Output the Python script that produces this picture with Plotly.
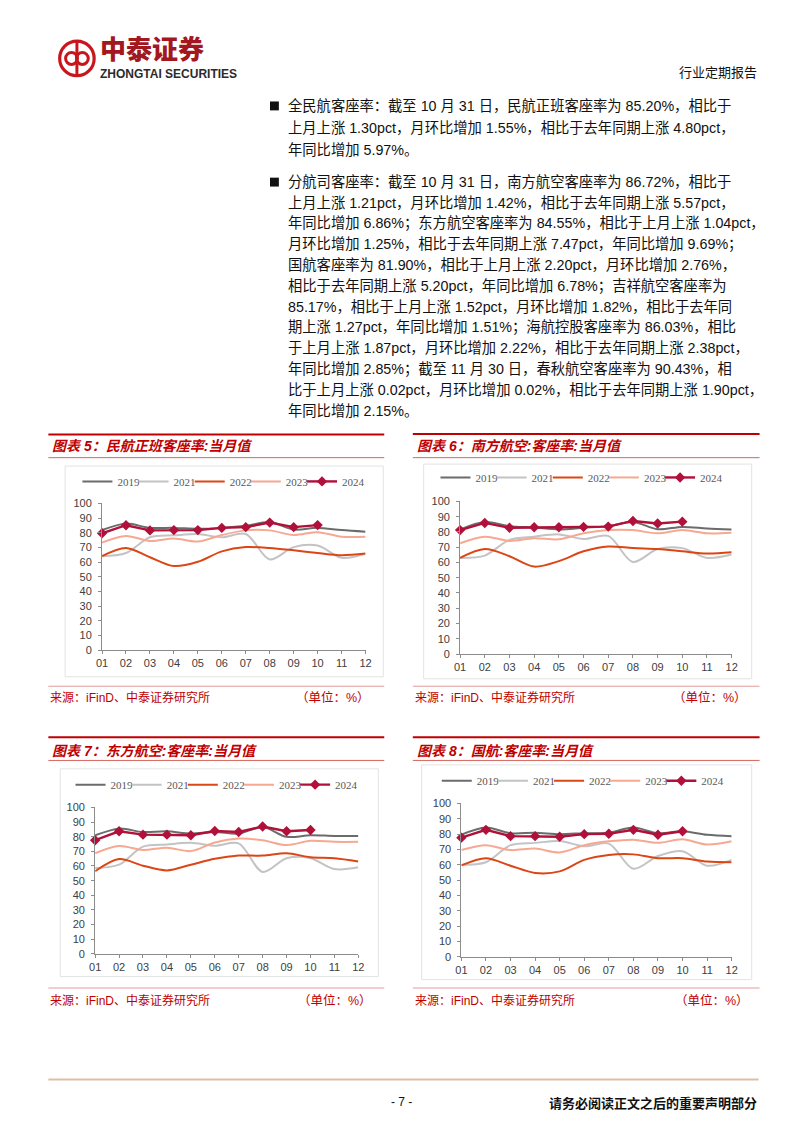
import plotly.graph_objects as go

W, H = 802, 1133


def fx(p):
    return p / W


def fy(p):
    return 1 - p / H


# ---------------- data ----------------
months = [1, 2, 3, 4, 5, 6, 7, 8, 9, 10, 11, 12]
month_labels = ["01", "02", "03", "04", "05", "06", "07", "08", "09", "10", "11", "12"]
years = ["2019", "2021", "2022", "2023", "2024"]
y_ticks = [0, 10, 20, 30, 40, 50, 60, 70, 80, 90, 100]

# 图表5 民航正班客座率
c5_2019 = [81.8, 86.2, 83.3, 83.3, 82.7, 83.3, 84.7, 87.3, 82.2, 83.3, 81.8, 80.7]
c5_2021 = [64.0, 66.2, 76.9, 78.2, 79.1, 76.9, 79.1, 61.8, 70.2, 71.3, 62.9, 65.6]
c5_2022 = [64.0, 69.6, 63.3, 57.3, 60.2, 67.3, 70.2, 69.6, 68.0, 66.2, 64.7, 65.8]
c5_2023 = [73.3, 77.8, 74.4, 76.0, 74.0, 78.4, 81.6, 81.6, 78.4, 80.4, 77.3, 77.3]
c5_2024 = [79.6, 85.1, 81.6, 81.8, 81.8, 83.3, 83.8, 86.9, 83.8, 85.2]

# 图表6 南方航空
c6_2019 = [81.6, 86.5, 83.8, 82.9, 81.6, 82.7, 83.8, 86.5, 81.8, 83.3, 82.3, 81.6]
c6_2021 = [63.0, 64.5, 74.8, 76.9, 78.4, 75.4, 77.4, 60.3, 68.8, 69.4, 63.0, 65.2]
c6_2022 = [63.0, 68.8, 64.1, 57.3, 60.9, 67.3, 70.5, 69.4, 68.8, 67.3, 65.8, 66.7]
c6_2023 = [72.6, 76.9, 74.1, 75.9, 75.2, 79.1, 81.2, 81.2, 79.1, 81.2, 79.1, 79.5]
c6_2024 = [81.2, 85.9, 82.7, 83.1, 83.1, 83.3, 83.5, 87.2, 85.5, 86.72]

# 图表7 东方航空
c7_2019 = [81.0, 85.5, 83.2, 83.7, 82.1, 83.2, 82.1, 86.6, 79.9, 81.0, 80.5, 80.5]
c7_2021 = [58.6, 60.9, 73.2, 74.7, 75.8, 73.8, 75.4, 55.9, 65.3, 65.3, 57.9, 59.1]
c7_2022 = [56.4, 64.7, 60.2, 57.0, 60.9, 64.9, 67.1, 67.1, 68.7, 66.0, 65.3, 63.1]
c7_2023 = [68.7, 73.6, 70.9, 72.5, 70.2, 76.1, 78.7, 77.6, 74.3, 77.2, 76.5, 76.5]
c7_2024 = [77.6, 83.7, 81.4, 81.4, 81.0, 83.9, 83.2, 87.0, 83.7, 84.55]

# 图表8 国航
c8_2019 = [79.6, 84.3, 80.6, 80.9, 80.0, 80.6, 80.9, 84.3, 80.6, 81.9, 79.6, 78.7]
c8_2021 = [60.0, 61.7, 72.8, 74.3, 75.5, 72.1, 73.8, 57.4, 65.7, 68.9, 59.4, 63.2]
c8_2022 = [59.6, 64.3, 59.4, 54.7, 55.7, 63.2, 66.4, 66.8, 64.3, 64.3, 62.1, 61.7]
c8_2023 = [69.6, 72.8, 69.6, 70.6, 68.1, 72.8, 75.3, 76.4, 74.3, 76.6, 73.2, 75.3]
c8_2024 = [77.7, 82.8, 78.7, 78.7, 78.3, 80.0, 80.2, 82.8, 79.6, 81.9]

chart_titles = [
    "图表 5：民航正班客座率:当月值",
    "图表 6：南方航空:客座率:当月值",
    "图表 7：东方航空:客座率:当月值",
    "图表 8：国航:客座率:当月值",
]
source_text = "来源：iFinD、中泰证券研究所"
unit_text = "（单位：%）"

para1 = [
    "全民航客座率：截至 10 月 31 日，民航正班客座率为 85.20%，相比于",
    "上月上涨 1.30pct，月环比增加 1.55%，相比于去年同期上涨 4.80pct，",
    "年同比增加 5.97%。",
]
para2 = [
    "分航司客座率：截至 10 月 31 日，南方航空客座率为 86.72%，相比于",
    "上月上涨 1.21pct，月环比增加 1.42%，相比于去年同期上涨 5.57pct，",
    "年同比增加 6.86%；东方航空客座率为 84.55%，相比于上月上涨 1.04pct，",
    "月环比增加 1.25%，相比于去年同期上涨 7.47pct，年同比增加 9.69%；",
    "国航客座率为 81.90%，相比于上月上涨 2.20pct，月环比增加 2.76%，",
    "相比于去年同期上涨 5.20pct，年同比增加 6.78%；吉祥航空客座率为",
    "85.17%，相比于上月上涨 1.52pct，月环比增加 1.82%，相比于去年同",
    "期上涨 1.27pct，年同比增加 1.51%；海航控股客座率为 86.03%，相比",
    "于上月上涨 1.87pct，月环比增加 2.22%，相比于去年同期上涨 2.38pct，",
    "年同比增加 2.85%；截至 11 月 30 日，春秋航空客座率为 90.43%，相",
    "比于上月上涨 0.02pct，月环比增加 0.02%，相比于去年同期上涨 1.90pct，",
    "年同比增加 2.15%。",
]

# ---------------- styles ----------------
series_colors = ["#6b6b6b", "#c3c3c3", "#dc4614", "#f6a892", "#b0103a"]
RED = "#c00000"
CJK = "Liberation Sans, Noto Sans CJK SC"
SERIF = "Liberation Serif, Noto Serif, serif"
LEG_STEP = 57

# layout geometry (pixels) per chart
geoms = [
    dict(ax=(97.5, 365.0, 502.7, 651.0), leg_y=480.5, region=(43, 384), box=(60, 465, 383, 678),
         bar=433, ttl=445, thin=456.5, foot=687.5, src=699, unit_r=372),
    dict(ax=(461.0, 736.7, 500.7, 655.0), leg_y=476.5, region=(413, 765), box=(424, 463, 757, 680),
         bar=432.5, ttl=445, thin=456.5, foot=687.5, src=699, unit_r=754),
    dict(ax=(90.5, 357.7, 810.0, 958.0), leg_y=787, region=(43, 384), box=(55, 771, 378, 981),
         bar=739, ttl=752.5, thin=762.5, foot=992.5, src=1005, unit_r=374),
    dict(ax=(462.3, 736.7, 806.0, 961.0), leg_y=783, region=(413, 765), box=(422, 767, 757, 984),
         bar=739, ttl=752.5, thin=762.5, foot=992.5, src=1005, unit_r=756),
]

chart_data = [
    [c5_2019, c5_2021, c5_2022, c5_2023, c5_2024],
    [c6_2019, c6_2021, c6_2022, c6_2023, c6_2024],
    [c7_2019, c7_2021, c7_2022, c7_2023, c7_2024],
    [c8_2019, c8_2021, c8_2022, c8_2023, c8_2024],
]

fig = go.Figure()
shapes = []
annotations = []
layout_extra = {}


def legend_cfg(x, y):
    return dict(
        orientation="h", x=fx(x), y=fy(y), xanchor="left", yanchor="middle",
        font=dict(family=SERIF, size=11, color="#595959"),
        bgcolor="rgba(0,0,0,0)", itemwidth=30,
        tracegroupgap=0, itemclick=False, itemdoubleclick=False,
    )


leg_counter = 0
for ci, (g, data) in enumerate(zip(geoms, chart_data)):
    n = ci + 1
    xa = "x" if n == 1 else f"x{n}"
    ya = "y" if n == 1 else f"y{n}"
    x0, x1, yt, yb = g["ax"]
    for si, (yr, vals) in enumerate(zip(years, data)):
        is24 = yr == "2024"
        leg_counter += 1
        legname = "legend" if leg_counter == 1 else f"legend{leg_counter}"
        layout_extra[legname] = legend_cfg(x0 - 25 + si * LEG_STEP, g["leg_y"])
        fig.add_trace(go.Scatter(
            x=months[:len(vals)], y=vals, name=yr,
            mode="lines+markers" if is24 else "lines",
            line=dict(color=series_colors[si], width=2.4 if is24 else 2,
                      shape="linear" if is24 else "spline", smoothing=0.9),
            marker=dict(symbol="diamond", size=8, color=series_colors[si]) if is24 else None,
            xaxis=xa, yaxis=ya, legend=legname, cliponaxis=False,
            hoverinfo="skip",
        ))
    axkey = "xaxis" if n == 1 else f"xaxis{n}"
    aykey = "yaxis" if n == 1 else f"yaxis{n}"
    layout_extra[axkey] = dict(
        domain=[fx(x0), fx(x1)], anchor=ya, range=[1, 12],
        tickmode="array", tickvals=months, ticktext=month_labels,
        showline=True, linecolor="#8c8c8c", linewidth=1,
        ticks="outside", ticklen=3, tickcolor="#8c8c8c",
        showgrid=False, zeroline=False,
        tickfont=dict(family="Liberation Sans", size=11, color="#404040"),
        fixedrange=True,
    )
    layout_extra[aykey] = dict(
        domain=[fy(yb), fy(yt)], anchor=xa, range=[0, 100],
        tickmode="array", tickvals=y_ticks,
        showline=True, linecolor="#8c8c8c", linewidth=1,
        ticks="outside", ticklen=3, tickcolor="#8c8c8c",
        showgrid=False, zeroline=False, ticklabelstandoff=4,
        tickfont=dict(family="Liberation Sans", size=11, color="#404040"),
        fixedrange=True,
    )

    r0, r1 = g["region"]
    shapes.append(dict(type="line", xref="paper", yref="paper", x0=fx(r0), x1=fx(r1),
                       y0=fy(g["bar"]), y1=fy(g["bar"]), line=dict(color=RED, width=2)))
    shapes.append(dict(type="line", xref="paper", yref="paper", x0=fx(r0), x1=fx(r1),
                       y0=fy(g["thin"]), y1=fy(g["thin"]), line=dict(color="#d9645c", width=1)))
    bx0, by0, bx1, by1 = g["box"]
    shapes.append(dict(type="rect", xref="paper", yref="paper", x0=fx(bx0), x1=fx(bx1),
                       y0=fy(by1), y1=fy(by0), line=dict(color="#e3e3e3", width=1)))
    shapes.append(dict(type="line", xref="paper", yref="paper", x0=fx(r0), x1=fx(r1),
                       y0=fy(g["foot"]), y1=fy(g["foot"]), line=dict(color="#e79a9a", width=1)))
    annotations.append(dict(text=chart_titles[ci], xref="paper", yref="paper",
                            x=fx(r0 + 2), y=fy(g["ttl"]), xanchor="left", yanchor="middle",
                            showarrow=False,
                            font=dict(family="Liberation Sans, Noto Sans CJK SC", size=14,
                                      color=RED, weight=700, style="italic")))
    annotations.append(dict(text=source_text, xref="paper", yref="paper",
                            x=fx(r0), y=fy(g["src"]), xanchor="left", yanchor="middle",
                            showarrow=False, font=dict(family=CJK, size=12, color=RED)))
    annotations.append(dict(text=unit_text, xref="paper", yref="paper",
                            x=fx(g["unit_r"]), y=fy(g["src"]), xanchor="right", yanchor="middle",
                            showarrow=False, font=dict(family=CJK, size=12.5, color=RED)))

# ---------------- body text ----------------
TEXT_X = 284
p1_y = [101, 123.5, 146]
p2_y = [178 + i * 21.0 for i in range(len(para2))]
for yy, line in zip(p1_y, para1):
    annotations.append(dict(text=line, xref="paper", yref="paper", x=fx(TEXT_X), y=fy(yy),
                            xanchor="left", yanchor="middle", showarrow=False,
                            font=dict(family=CJK, size=14.3, color="#111111")))
for yy, line in zip(p2_y, para2):
    annotations.append(dict(text=line, xref="paper", yref="paper", x=fx(TEXT_X), y=fy(yy),
                            xanchor="left", yanchor="middle", showarrow=False,
                            font=dict(family=CJK, size=14.3, color="#111111")))
for yy in (p1_y[0], p2_y[0]):
    shapes.append(dict(type="rect", xref="paper", yref="paper", x0=fx(268), x1=fx(277),
                       y0=fy(yy + 4.5), y1=fy(yy - 4.5), fillcolor="#111111", line=dict(width=0)))

# ---------------- header ----------------
LOGO_RED = "#c8161d"
cx, cy, r = 72, 53, 17.5
shapes.append(dict(type="circle", xref="paper", yref="paper", x0=fx(cx - r), x1=fx(cx + r),
                   y0=fy(cy + r), y1=fy(cy - r), line=dict(color=LOGO_RED, width=3.2)))
for dx in (-5.5, 5.5):
    rr = 6
    shapes.append(dict(type="circle", xref="paper", yref="paper", x0=fx(cx + dx - rr), x1=fx(cx + dx + rr),
                       y0=fy(cy + rr), y1=fy(cy - rr), line=dict(color=LOGO_RED, width=3)))
shapes.append(dict(type="line", xref="paper", yref="paper", x0=fx(cx), x1=fx(cx),
                   y0=fy(cy - r), y1=fy(cy + r), line=dict(color=LOGO_RED, width=3)))
annotations.append(dict(text="中泰证券", xref="paper", yref="paper", x=fx(93), y=fy(41.5),
                        xanchor="left", yanchor="middle", showarrow=False,
                        font=dict(family="Noto Sans CJK SC", size=26, color="#a3171e", weight=900)))
annotations.append(dict(text="ZHONGTAI SECURITIES", xref="paper", yref="paper", x=fx(93), y=fy(68.5),
                        xanchor="left", yanchor="middle", showarrow=False,
                        font=dict(family="Liberation Sans", size=12, color="#2b2b2b", weight=700)))
annotations.append(dict(text="行业定期报告", xref="paper", yref="paper", x=fx(764), y=fy(66),
                        xanchor="right", yanchor="middle", showarrow=False,
                        font=dict(family="Noto Sans CJK SC", size=13, color="#111111")))

# ---------------- footer ----------------
shapes.append(dict(type="line", xref="paper", yref="paper", x0=fx(43), x1=fx(764),
                   y0=fy(1085), y1=fy(1085), line=dict(color="#dcbfa6", width=2)))
annotations.append(dict(text="- 7 -", xref="paper", yref="paper", x=fx(401), y=fy(1108),
                        xanchor="center", yanchor="middle", showarrow=False,
                        font=dict(family="Liberation Sans", size=12, color="#111111")))
annotations.append(dict(text="请务必阅读正文之后的重要声明部分", xref="paper", yref="paper", x=fx(764), y=fy(1108),
                        xanchor="right", yanchor="middle", showarrow=False,
                        font=dict(family="Noto Sans CJK SC", size=13, color="#111111", weight=700)))

fig.update_layout(
    width=W, height=H, margin=dict(l=0, r=0, t=0, b=0),
    paper_bgcolor="white", plot_bgcolor="white",
    showlegend=True, shapes=shapes, annotations=annotations,
    **layout_extra,
)

fig.write_html("out.html", config={"displayModeBar": False},
               post_script="document.body.style.margin='0px';document.body.style.overflow='hidden';")
